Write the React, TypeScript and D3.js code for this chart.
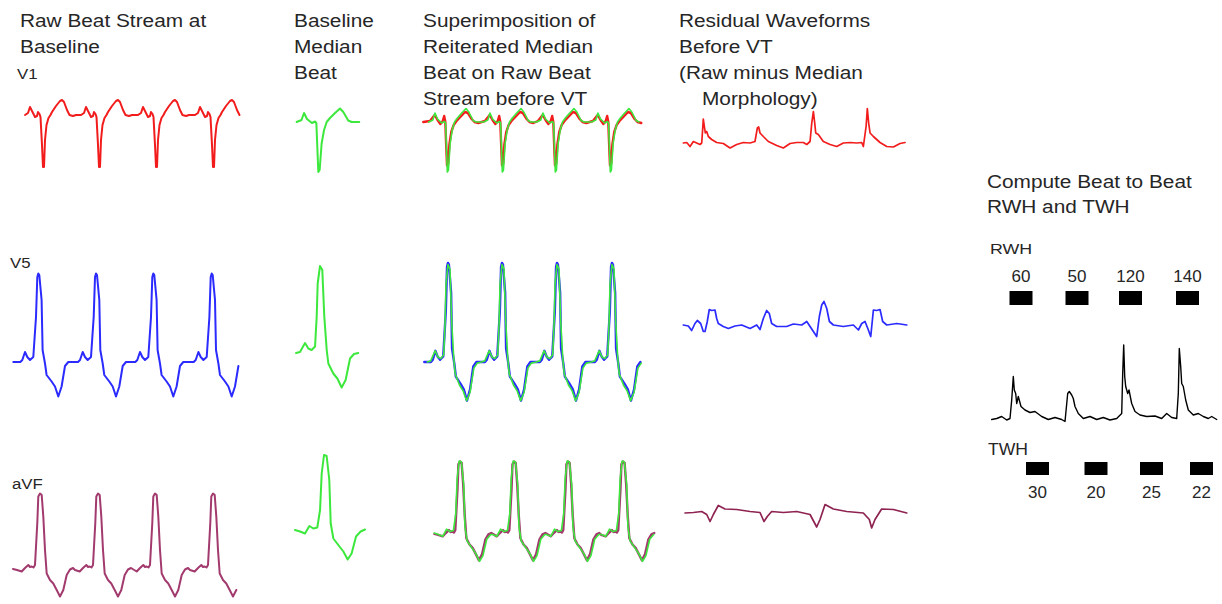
import React from "react";
import * as d3 from "d3";

type Pt = [number, number];

// ---------- text ----------
const TITLE_RAW = ["Raw Beat Stream at", "Baseline"];
const TITLE_MEDIAN = ["Baseline", "Median", "Beat"];
const TITLE_SUPER = ["Superimposition of", "Reiterated Median", "Beat on Raw Beat", "Stream before VT"];
const TITLE_RESID = ["Residual Waveforms", "Before VT", "(Raw minus Median", "Morphology)"];
const TITLE_COMPUTE = ["Compute Beat to Beat", "RWH and TWH"];
const LEAD_NAMES = ["V1", "V5", "aVF"];

// ---------- median beats (ms relative to main deflection, mV) ----------
const MEDIAN_V1: Pt[] = [[-194, 0], [-150, 0.04], [-127, 0.18], [-100, 0.06], [-55, -0.02], [-27, 0.01], [-15, -0.02], [3, -1.0], [15, -0.96], [33, -0.43], [55, -0.16], [79, 0.0], [109, 0.08], [155, 0.18], [200, 0.27], [230, 0.2], [275, 0.03], [306, 0], [375, 0]];
const MEDIAN_V5: Pt[] = [[-218, 0], [-182, 0.02], [-136, 0.2], [-106, 0.09], [-76, 0.06], [-45, 0.13], [-30, 0.73], [-21, 1.39], [0, 1.74], [21, 1.66], [39, 0.73], [61, 0.06], [76, -0.21], [121, -0.41], [158, -0.51], [197, -0.69], [233, -0.54], [273, -0.11], [309, -0.02], [348, 0]];
const MEDIAN_AVF: Pt[] = [[-273, 0], [-227, -0.03], [-182, -0.07], [-142, 0.08], [-106, 0.03], [-70, 0.05], [-45, 0.4], [-30, 1.13], [-9, 1.5], [15, 1.48], [39, 1.0], [52, 0.13], [76, -0.17], [121, -0.3], [167, -0.43], [206, -0.59], [242, -0.47], [282, -0.13], [324, -0.03], [364, 0.01]];

// ---------- raw beats at baseline ----------
const RAW_BEAT_V1: Pt[] = [[-250, 0], [-180, 0], [-150, 0.04], [-130, 0.16], [-105, 0.06], [-80, -0.04], [-60, -0.02], [-50, 0.06], [-35, 0.02], [-25, -0.04], [-10, -0.6], [0, -1.04], [10, -1.04], [20, -0.5], [35, -0.2], [55, -0.06], [75, 0.0], [90, 0.06], [130, 0.18], [170, 0.28], [190, 0.3], [210, 0.26], [240, 0.1], [265, 0.0], [300, -0.02], [330, 0]];
const RAW_BEAT_V5: Pt[] = [[-250, 0], [-180, 0], [-160, 0.04], [-133, 0.2], [-110, 0.1], [-83, 0.04], [-50, 0.1], [-23, 0.9], [-10, 1.7], [0, 1.77], [10, 1.74], [33, 1.24], [43, 0.24], [67, -0.03], [83, -0.26], [133, -0.39], [167, -0.49], [200, -0.69], [233, -0.49], [267, -0.08], [300, 0], [330, 0]];
const RAW_BEAT_AVF: Pt[] = [[-270, -0.02], [-230, -0.04], [-183, -0.07], [-150, 0], [-117, 0.06], [-100, 0.02], [-83, 0.03], [-65, 0.01], [-50, 0.06], [-27, 0.9], [-17, 1.43], [0, 1.49], [17, 1.46], [33, 1.03], [50, 0.36], [67, -0.11], [100, -0.24], [133, -0.31], [167, -0.44], [200, -0.57], [233, -0.44], [267, -0.14], [300, -0.03], [330, 0]];

// baseline stream beat times (ms) and stream extents
const BASE_BEATS_V1 = [430, 990, 1560, 2130];
const BASE_BEATS_V5 = [383, 960, 1533, 2117];
const BASE_BEATS_AVF = [400, 980, 1550, 2130];
const BASE_SPAN_V1: Pt = [200, 2420];
const BASE_SPAN_V5: Pt = [130, 2395];
const BASE_SPAN_AVF: Pt = [130, 2390];

// ---------- raw stream before VT ----------
const PREVT_BEAT_V1: Pt[] = [[-250, 0], [-180, 0.02], [-130, 0.14], [-100, 0.04], [-70, -0.04], [-45, 0.02], [-30, 0.12], [-18, 0.0], [-8, -0.5], [0, -0.87], [12, -0.84], [25, -0.45], [45, -0.2], [70, -0.06], [100, 0.02], [140, 0.1], [190, 0.2], [220, 0.18], [260, 0.06], [290, 0.0], [330, -0.02]];
const PREVT_BEATS_V1 = [496, 1076, 1635, 2215];
const PREVT_BEATS_V5 = [506, 1076, 1656, 2236];
const PREVT_BEATS_AVF = [633, 1203, 1772, 2352];
const PREVT_SPAN_V1: Pt = [243, 2580];
const PREVT_SPAN_V5: Pt = [243, 2565];
const PREVT_SPAN_AVF: Pt = [345, 2690];

// ---------- residual waveforms (ms, µV) ----------
const RESID_V1: Pt[] = [[288, 0], [324, 1], [359, -7], [394, 3], [429, 0], [464, -3], [482, 0], [492, 27], [499, 48], [510, 33], [520, 20], [535, 23], [552, 13], [587, 7], [640, 1], [710, -1], [781, -10], [851, -3], [921, 1], [992, 0], [1044, 3], [1069, 30], [1083, 32], [1097, 20], [1132, 13], [1185, 3], [1273, -5], [1343, -10], [1414, -1], [1484, 1], [1554, 1], [1590, -3], [1625, 3], [1643, 40], [1660, 63], [1674, 40], [1685, 20], [1712, 17], [1765, 3], [1836, -3], [1906, -7], [1976, 0], [2047, 1], [2117, 0], [2170, 1], [2187, -7], [2216, 33], [2229, 69], [2243, 40], [2258, 20], [2293, 13], [2363, 1], [2434, -7], [2504, -8], [2574, -1], [2627, 1]];
const RESID_V5: Pt[] = [[288, 0], [341, -2], [376, -11], [411, 3], [436, 9], [471, 3], [499, -13], [517, -13], [541, 7], [562, 31], [587, 29], [622, 30], [640, 13], [657, 3], [710, -3], [763, -7], [833, -2], [904, 0], [992, -7], [1062, 0], [1097, -9], [1132, 13], [1167, 29], [1195, 23], [1220, 3], [1273, -3], [1378, -3], [1449, 2], [1537, 0], [1590, 7], [1625, -3], [1660, -13], [1695, -23], [1723, 17], [1748, 40], [1772, 47], [1801, 33], [1829, 7], [1871, 0], [1976, -3], [2082, 0], [2135, -10], [2170, 3], [2205, 7], [2240, -10], [2265, -23], [2293, 30], [2328, 29], [2363, 31], [2391, 7], [2434, 0], [2540, 3], [2645, 0]];
const RESID_AVF: Pt[] = [[306, 0], [394, 1], [482, 3], [535, -3], [570, -17], [605, -3], [657, 15], [728, 8], [851, 7], [992, 3], [1097, 1], [1139, -17], [1174, -7], [1220, 3], [1343, 1], [1484, 3], [1625, -3], [1695, -28], [1730, -13], [1783, 17], [1871, 8], [2012, 3], [2187, 0], [2250, -13], [2275, -30], [2310, -13], [2380, 8], [2504, 7], [2645, 0]];

// ---------- combined residual (RWH / TWH) ----------
const COMBINED: Pt[] = [[17, 1], [67, 3], [117, 7], [167, 0], [200, 3], [217, 40], [233, 87], [243, 60], [257, 53], [267, 33], [283, 47], [310, 27], [350, 20], [400, 15], [450, 17], [517, 7], [583, 1], [650, 5], [717, 1], [750, -3], [777, 53], [793, 57], [817, 50], [833, 43], [850, 27], [883, 13], [933, 3], [1000, 7], [1067, 1], [1133, 5], [1200, 0], [1267, 3], [1317, 13], [1327, 93], [1337, 150], [1347, 87], [1357, 67], [1377, 53], [1390, 60], [1417, 33], [1450, 17], [1500, 10], [1567, 7], [1650, 8], [1717, 3], [1767, 13], [1817, 5], [1867, 3], [1883, 53], [1893, 143], [1907, 107], [1917, 73], [1933, 67], [1957, 40], [1983, 20], [2033, 10], [2083, 13], [2133, 7], [2183, 3], [2217, 7], [2267, 1]];
const RWH_VALUES = [60, 50, 120, 140];
const RWH_TIMES = [310, 870, 1405, 1975];
const TWH_VALUES = [30, 20, 25, 22];
const TWH_TIMES = [475, 1060, 1615, 2115];

// ---------- helpers ----------
function buildStream(template: Pt[], beats: number[], span: Pt): Pt[] {
  const out: Pt[] = [];
  beats.forEach((b, i) => {
    const prev = beats[i - 1];
    const next = beats[i + 1];
    const lo = prev === undefined ? -Infinity : b - 0.4 * (b - prev);
    const hi = next === undefined ? Infinity : b + 0.6 * (next - b);
    template.forEach(([t, v]) => {
      const tt = b + t;
      if (tt >= lo && tt < hi && tt >= span[0] && tt <= span[1]) out.push([tt, v]);
    });
  });
  return out;
}

type Scale = d3.ScaleLinear<number, number>;
function Trace({ data, x, y, color, width = 1.6 }: { data: Pt[]; x: Scale; y: Scale; color: string; width?: number }) {
  const line = d3.line<Pt>().x((d) => x(d[0])).y((d) => y(d[1]));
  return <path d={line(data) || ""} fill="none" stroke={color} strokeWidth={width} strokeLinejoin="round" strokeLinecap="round" />;
}

const FONT = "'Liberation Sans', Arial, sans-serif";
const TXT = "#262626";
function Label({ x, y, size, sx, children, anchor = "start" }: { x: number; y: number; size: number; sx: number; children: React.ReactNode; anchor?: string }) {
  return (
    <text transform={`translate(${x},${y}) scale(${sx},1)`} fontSize={size} fontFamily={FONT} fill={TXT} textAnchor={anchor as any}>
      {children}
    </text>
  );
}

function TitleBlock({ lines, x, y, dy, indents = [] }: { lines: string[]; x: number; y: number; dy: number; indents?: number[] }) {
  return (
    <g>
      {lines.map((l, i) => (
        <Label key={i} x={x + (indents[i] || 0)} y={y + i * dy} size={17.5} sx={1.19}>{l}</Label>
      ))}
    </g>
  );
}

const RED = "#f21c1c";
const BLUE = "#2b2bff";
const PLUM = "#a23a6e";
const PLUM_DARK = "#8e2352";
const GREEN = "#3ce83c";

export default function App() {
  const rawX = d3.scaleLinear().domain([0, 2500]).range([0, 250]);
  const supX = d3.scaleLinear().domain([0, 2600]).range([400, 646.5]);
  const resX = d3.scaleLinear().domain([0, 2600]).range([656, 902.5]);
  const sumX = d3.scaleLinear().domain([0, 2300]).range([990, 1220]);
  const ampY = (base: number, pxPerUnit: number) => d3.scaleLinear().domain([0, 1]).range([base, base - pxPerUnit]);
  const medX = (center: number) => d3.scaleLinear().domain([0, 100]).range([center, center + 11]);

  const rows = [
    {
      name: LEAD_NAMES[0], lx: 17, ly: 79, color: RED, resColor: RED,
      raw: buildStream(RAW_BEAT_V1, BASE_BEATS_V1, BASE_SPAN_V1), rawY: ampY(115, 50),
      median: MEDIAN_V1, medX: medX(318), medY: ampY(122, 50),
      pre: buildStream(PREVT_BEAT_V1, PREVT_BEATS_V1, PREVT_SPAN_V1),
      reit: buildStream(MEDIAN_V1, PREVT_BEATS_V1, PREVT_SPAN_V1), supY: ampY(122, 50),
      resid: RESID_V1, resY: ampY(143, 0.5),
    },
    {
      name: LEAD_NAMES[1], lx: 10, ly: 268, color: BLUE, resColor: BLUE,
      raw: buildStream(RAW_BEAT_V5, BASE_BEATS_V5, BASE_SPAN_V5), rawY: ampY(362, 50),
      median: MEDIAN_V5, medX: medX(320), medY: ampY(353, 50),
      pre: buildStream(RAW_BEAT_V5, PREVT_BEATS_V5, PREVT_SPAN_V5),
      reit: buildStream(MEDIAN_V5, PREVT_BEATS_V5, PREVT_SPAN_V5), supY: ampY(362, 56),
      resid: RESID_V5, resY: ampY(325, 0.5),
    },
    {
      name: LEAD_NAMES[2], lx: 12, ly: 489, color: PLUM, resColor: PLUM_DARK,
      raw: buildStream(RAW_BEAT_AVF, BASE_BEATS_AVF, BASE_SPAN_AVF), rawY: ampY(568, 50),
      median: MEDIAN_AVF, medX: medX(325), medY: ampY(530, 50),
      pre: buildStream(RAW_BEAT_AVF, PREVT_BEATS_AVF, PREVT_SPAN_AVF),
      reit: buildStream(MEDIAN_AVF, PREVT_BEATS_AVF, PREVT_SPAN_AVF), supY: ampY(533, 48),
      resid: RESID_AVF, resY: ampY(513, 0.5),
    },
  ];

  const sumY = ampY(420, 0.5);

  return (
    <svg width={1222} height={604} style={{ position: "absolute", left: 0, top: 0, background: "#fff" }}>
      <rect x={0} y={0} width={1222} height={604} fill="#fff" />
      <TitleBlock lines={TITLE_RAW} x={20} y={27} dy={26} />
      <TitleBlock lines={TITLE_MEDIAN} x={294} y={27} dy={26} />
      <TitleBlock lines={TITLE_SUPER} x={423} y={27} dy={26} />
      <TitleBlock lines={TITLE_RESID} x={679} y={27} dy={26} indents={[0, 0, 0, 23]} />
      <TitleBlock lines={TITLE_COMPUTE} x={987} y={188} dy={25} />

      {rows.map((r) => (
        <g key={r.name}>
          <Label x={r.lx} y={r.ly} size={15} sx={1.12}>{r.name}</Label>
          <Trace data={r.raw} x={rawX} y={r.rawY} color={r.color} width={2} />
          <Trace data={r.median} x={r.medX} y={r.medY} color={GREEN} width={2} />
          <Trace data={r.pre} x={supX} y={r.supY} color={r.color} width={2.4} />
          <Trace data={r.reit} x={supX} y={r.supY} color={GREEN} width={1.6} />
          <Trace data={r.resid} x={resX} y={r.resY} color={r.resColor} width={1.7} />
        </g>
      ))}

      {/* RWH / TWH panel */}
      <Label x={990} y={254} size={15.5} sx={1.15}>RWH</Label>
      {RWH_VALUES.map((v, i) => (
        <g key={"r" + i}>
          <text x={sumX(RWH_TIMES[i])} y={282} fontSize={17} fontFamily={FONT} fill={TXT} textAnchor="middle">{v}</text>
          <rect x={sumX(RWH_TIMES[i]) - 11.5} y={291} width={23} height={14} fill="#000" />
        </g>
      ))}
      <Trace data={COMBINED} x={sumX} y={sumY} color="#000" width={1.4} />
      <Label x={988} y={455} size={16} sx={1.1}>TWH</Label>
      {TWH_VALUES.map((v, i) => (
        <g key={"t" + i}>
          <rect x={sumX(TWH_TIMES[i]) - 11.5} y={462} width={23} height={13} fill="#000" />
          <text x={sumX(TWH_TIMES[i])} y={498} fontSize={17} fontFamily={FONT} fill={TXT} textAnchor="middle">{v}</text>
        </g>
      ))}
    </svg>
  );
}
